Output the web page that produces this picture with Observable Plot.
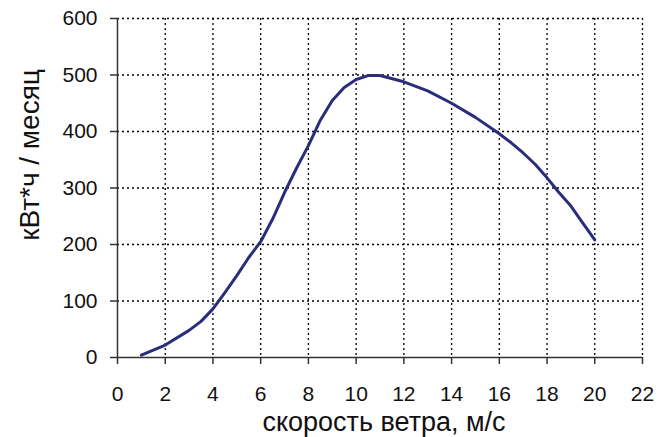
<!DOCTYPE html>
<html>
<head>
<meta charset="utf-8">
<script src="https://cdn.jsdelivr.net/npm/d3@7"></script>
<script src="https://cdn.jsdelivr.net/npm/@observablehq/plot@0.6"></script>
<style>
  html, body { margin: 0; padding: 0; background: #fff; }
  #chart svg { display: block; }
</style>
</head>
<body>
<div id="chart"></div>
<script>
const speed = [1, 2, 3, 3.5, 4, 4.5, 5, 5.5, 6, 6.5, 7, 7.5, 8, 8.5, 9, 9.5, 10, 10.5, 11, 12, 13, 14, 15, 16, 16.5, 17, 17.5, 18, 18.5, 19, 19.5, 20];
const energy = [4, 22, 48, 64, 86, 115, 145, 177, 205, 245, 292, 335, 375, 420, 455, 478, 492, 499, 499, 488, 472, 450, 425, 396, 380, 362, 342, 318, 292, 268, 238, 208];
const xTicks = [0, 2, 4, 6, 8, 10, 12, 14, 16, 18, 20, 22];
const yTicks = [0, 100, 200, 300, 400, 500, 600];
const xLabel = "скорость ветра, м/с";
const yLabel = "кВт*ч / месяц";

const data = speed.map((s, i) => ({speed: s, energy: energy[i]}));
const font = "'Liberation Sans', Arial, sans-serif";

const chart = Plot.plot({
  width: 668,
  height: 437,
  marginLeft: 117,
  marginRight: 26,
  marginTop: 18,
  marginBottom: 80,
  style: {fontFamily: font, fontSize: "21px", color: "#111", background: "#fff"},
  x: {domain: [0, 22]},
  y: {domain: [0, 600]},
  marks: [
    Plot.gridX(xTicks.filter(d => d > 0), {stroke: "#000", strokeOpacity: 1, strokeWidth: 1.3, strokeDasharray: "2,3"}),
    Plot.gridY(yTicks.filter(d => d > 0), {stroke: "#000", strokeOpacity: 1, strokeWidth: 1.3, strokeDasharray: "2,3"}),
    Plot.axisX(xTicks, {tickSize: 7, tickPadding: 22, fontSize: 21, stroke: "#333", strokeWidth: 1.5, label: null}),
    Plot.axisY(yTicks, {tickSize: 7, tickPadding: 13, fontSize: 21, stroke: "#333", strokeWidth: 1.5, label: null}),
    Plot.ruleX([0], {stroke: "#333", strokeWidth: 1.5}),
    Plot.ruleY([0], {stroke: "#333", strokeWidth: 1.5}),
    Plot.line(data, {x: "speed", y: "energy", stroke: "#2b2d7c", strokeWidth: 3, strokeLinejoin: "round", strokeLinecap: "round"}),
    Plot.text([xLabel], {frameAnchor: "bottom", textAnchor: "middle", dx: 4, dy: 65, fontSize: 27, lineAnchor: "middle", fill: "#111"}),
    Plot.text([yLabel], {frameAnchor: "left", textAnchor: "middle", rotate: -90, dx: -87, dy: -33, fontSize: 28, lineAnchor: "middle", fill: "#111"})
  ]
});
document.getElementById("chart").appendChild(chart);
</script>
</body>
</html>
